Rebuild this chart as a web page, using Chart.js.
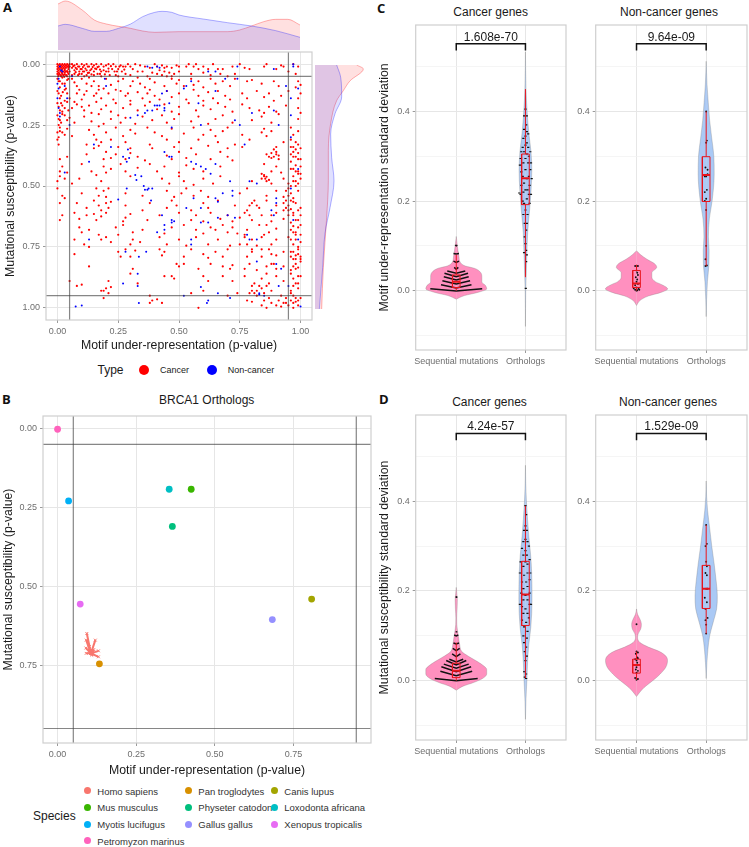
<!DOCTYPE html>
<html>
<head>
<meta charset="utf-8">
<script src="https://cdn.jsdelivr.net/npm/chart.js@4"></script>
<style>
html,body{margin:0;background:#fff;width:749px;height:847px;overflow:hidden;font-family:"Liberation Sans",Arial,sans-serif}
canvas,.txt,.dot{position:absolute}
.txt{white-space:nowrap;transform:translateY(-50%)}
.dot{border-radius:50%}
</style>
</head>
<body>
<script>
// ---- panel A data ----
const cutoffs = [0.05, 0.95]
const pTicks = [0, 0.25, 0.5, 0.75, 1]
const pTicksB = [0, 0.25, 0.5, 0.75]

const cancerPoints = [
[0,0],[.01,0],[.02,0],[.03,0],[.04,0],[.05,0],[0,.01],[.01,.01],[.02,.01],[.03,.01],[.04,.01],[.05,.01],[0,.02],[.01,.02],[.02,.02],[.03,.02],[.045,.02],[0,.03],[.012,.03],[.025,.03],[.035,.03],[.05,.03],[0,.04],[.008,.04],[.02,.04],[.03,.042],[.045,.04],[.003,.05],[.015,.05],[.028,.052],[.04,.05],
[.06,0],[.07,.005],[.08,0],[.09,.01],[.1,0],[.11,.005],[.12,0],[.13,.01],[.14,0],[.15,.005],[.16,0],[.17,.01],[.18,0],[.2,.005],[.21,0],[.06,.015],[.07,.025],[.08,.02],[.09,.03],[.1,.02],[.11,.03],[.12,.025],[.13,.035],[.14,.02],[.15,.03],[.16,.02],[.07,.04],[.085,.045],[.1,.04],[.12,.045],[.14,.042],[.165,.04],[.18,.03],[.19,.025],[.2,.03],[.11,.05],[.06,.045],[.23,0],[.24,.01],[.225,.02],[.235,.03],[.24,.045],[.25,.02],[.215,.045],[.18,.05],[.25,.05],
[.26,.005],[.27,.01],[.28,.01],[.29,0],[.28,.04],[.32,0],[.3,.045],[.33,.03],[.36,.01],[.38,.015],[.39,.035],[.37,.05],[.4,0],[.41,.01],[.41,.04],[.43,.005],[.45,.01],[.44,.03],[.46,.035],[.47,.015],[.48,.04],[.49,.005],[.47,.05],[.45,.05],[.43,.045],[.5,.03],
[.53,.01],[.54,0],[.55,.04],[.56,.01],[.57,0],[.58,.02],[.6,.01],[.6,.035],[.62,.02],[.63,.045],[.64,0],[.66,.02],[.67,.04],[.68,.02],[.7,.05],[.72,.01],[.73,.04],[.75,0],[.77,.015],[.79,.02],[.85,.01],[.86,0],[.92,.005],[.93,.01],[.9,.02],[.95,.03],[.97,0],[.98,.04],[.99,.01],
[0,.06],[.01,.07],[.02,.055],[.03,.08],[.04,.065],[.06,.06],[.08,.09],[.1,.06],[.12,.08],[.13,.055],[.15,.07],[.17,.09],[.2,.06],[.22,.085],[.25,.07],[.27,.06],[.3,.09],[.31,.07],[.33,.055],[.34,.08],[.36,.095],[.38,.06],[.4,.075],[.44,.09],[.47,.06],[.49,.08],[.5,.065],[.52,.09],[.55,.06],[.56,.085],[.58,.07],[.6,.095],[.63,.06],[.65,.08],[.68,.07],[.71,.09],[.73,.06],[.78,.07],[.8,.065],[.84,.08],[.89,.07],[.91,.09],[.99,.07],[1,.085],[.98,.095],
[0,.11],[.015,.13],[.03,.105],[.05,.14],[.08,.12],[.1,.145],[.12,.11],[.15,.13],[.17,.105],[.18,.14],[.21,.12],[.23,.145],[.26,.11],[.28,.13],[.3,.15],[.33,.115],[.35,.14],[.38,.105],[.4,.13],[.42,.145],[.45,.11],[.47,.135],[.5,.12],[.53,.145],[.56,.105],[.58,.13],[.6,.15],[.62,.115],[.64,.14],[.66,.11],[.69,.13],[.71,.145],[.76,.12],[.78,.14],[.82,.11],[.85,.135],[.87,.12],[.89,.15],[.92,.13],[.95,.11],[.99,.14],[1,.12],
[0,.16],[.01,.19],[.02,.17],[.04,.155],[.06,.18],[.08,.165],[.11,.19],[.13,.17],[.16,.155],[.18,.185],[.2,.17],[.22,.195],[.24,.16],[.27,.18],[.3,.165],[.33,.19],[.36,.17],[.38,.155],[.41,.185],[.44,.165],[.47,.195],[.5,.175],[.54,.16],[.57,.19],[.6,.17],[.63,.185],[.66,.16],[.69,.175],[.72,.195],[.76,.165],[.79,.18],[.83,.19],[.85,.2],[.87,.175],[.9,.195],[.94,.17],[.99,.18],[1,.2],
[0,.21],[.01,.23],[.02,.205],[.05,.22],[.07,.24],[.11,.215],[.14,.235],[.17,.205],[.19,.245],[.22,.225],[.25,.21],[.26,.24],[.28,.22],[.32,.245],[.35,.215],[.39,.23],[.43,.21],[.45,.24],[.48,.225],[.5,.205],[.55,.235],[.58,.215],[.62,.245],[.65,.225],[.68,.21],[.72,.24],[.8,.23],[.84,.215],[.88,.24],[.91,.205],[.99,.225],
[0,.28],[.005,.3],[.01,.26],[.03,.29],[.04,.265],[.06,.295],[.13,.27],[.15,.29],[.17,.255],[.2,.28],[.24,.26],[.27,.295],[.3,.27],[.32,.285],[.37,.26],[.4,.28],[.43,.295],[.47,.265],[.52,.285],[.56,.26],[.6,.29],[.63,.27],[.65,.295],[.68,.275],[.7,.26],[.76,.29],[.84,.28],[.85,.265],[.86,.295],[.88,.275],[.96,.26],[.97,.29],[.99,.275],
[0,.31],[.005,.33],[.12,.33],[.15,.345],[.16,.31],[.17,.335],[.18,.32],[.22,.31],[.25,.34],[.28,.32],[.3,.345],[.38,.33],[.39,.345],[.45,.31],[.48,.34],[.5,.32],[.55,.345],[.58,.31],[.62,.335],[.66,.32],[.7,.345],[.73,.33],[.76,.34],[.79,.31],[.9,.34],[.93,.32],[.97,.34],[.98,.32],[1,.345],[.96,.31],
[.04,.38],[.12,.37],[.19,.39],[.2,.36],[.22,.385],[.24,.37],[.28,.39],[.3,.365],[.33,.38],[.36,.395],[.45,.375],[.47,.39],[.5,.36],[.53,.385],[.57,.37],[.63,.39],[.67,.36],[.7,.38],[.72,.395],[.86,.37],[.88,.365],[.89,.38],[.9,.36],[.91,.375],[.97,.36],[.98,.38],[.99,.365],[1,.39],[.96,.37],[.01,.39],
[.01,.44],[.04,.445],[.02,.42],[.1,.41],[.14,.44],[.19,.42],[.2,.445],[.22,.43],[.26,.41],[.28,.44],[.33,.425],[.38,.41],[.41,.44],[.44,.42],[.5,.445],[.53,.415],[.56,.43],[.6,.44],[.67,.42],[.85,.41],[.88,.44],[.9,.42],[.92,.445],[.96,.4],[.97,.43],[.98,.415],[.99,.44],[1,.42],
[0,.48],[.01,.46],[.03,.47],[.06,.49],[.09,.47],[.16,.455],[.18,.48],[.3,.46],[.43,.47],[.46,.49],[.5,.46],[.52,.48],[.56,.495],[.6,.47],[.64,.49],[.67,.46],[.8,.48],[.85,.46],[.855,.47],[.86,.462],[.87,.475],[.88,.49],[.93,.47],[.95,.49],[.97,.46],[.98,.48],[.99,.45],[1,.47],
[0,.51],[.02,.54],[.1,.53],[.16,.51],[.17,.54],[.19,.52],[.2,.545],[.21,.51],[.28,.53],[.35,.54],[.45,.52],[.48,.545],[.51,.53],[.53,.51],[.56,.54],[.59,.52],[.62,.545],[.75,.53],[.78,.51],[.86,.54],[.9,.52],[.93,.545],[.95,.51],[.96,.53],[.97,.55],[.99,.52],
[.01,.57],[.03,.55],[.08,.57],[.12,.59],[.15,.56],[.17,.58],[.18,.6],[.2,.57],[.21,.59],[.22,.565],[.28,.58],[.35,.6],[.38,.57],[.45,.59],[.47,.56],[.49,.58],[.55,.6],[.6,.57],[.62,.59],[.66,.56],[.73,.58],[.78,.6],[.8,.57],[.83,.59],[.86,.56],[.9,.58],[.93,.6],[.94,.56],[.95,.58],[.96,.595],[.97,.565],[1,.59],
[.01,.64],[.02,.62],[.07,.61],[.09,.635],[.12,.62],[.15,.615],[.16,.64],[.18,.625],[.2,.61],[.27,.645],[.28,.63],[.3,.615],[.37,.64],[.42,.62],[.5,.61],[.55,.64],[.57,.62],[.6,.645],[.63,.61],[.67,.635],[.7,.62],[.72,.645],[.75,.63],[.77,.61],[.8,.64],[.84,.62],[.88,.645],[.9,.61],[.93,.635],[.95,.62],[.97,.61],[.99,.64],[1,.62],
[.13,.68],[.1,.69],[.09,.67],[.17,.7],[.24,.67],[.27,.66],[.31,.69],[.35,.68],[.44,.695],[.47,.67],[.52,.66],[.57,.68],[.6,.695],[.63,.67],[.65,.68],[.68,.66],[.7,.69],[.72,.67],[.74,.695],[.78,.68],[.83,.66],[.87,.69],[.9,.675],[.96,.68],[.97,.665],[.98,.69],[.99,.67],
[.07,.72],[.11,.74],[.13,.75],[.18,.72],[.2,.71],[.22,.73],[.25,.7],[.3,.74],[.31,.72],[.34,.73],[.42,.71],[.45,.74],[.5,.72],[.53,.745],[.57,.71],[.62,.74],[.66,.72],[.71,.745],[.77,.71],[.78,.74],[.8,.72],[.82,.745],[.84,.71],[.88,.74],[.9,.72],[.95,.71],[.97,.74],[.98,.72],[.99,.75],[1,.73],
[.07,.78],[.26,.79],[.25,.77],[.28,.76],[.3,.79],[.32,.765],[.42,.76],[.43,.785],[.44,.77],[.52,.79],[.55,.76],[.6,.78],[.62,.795],[.65,.77],[.68,.79],[.7,.76],[.78,.79],[.8,.77],[.84,.79],[.87,.76],[.9,.785],[.93,.77],[.96,.79],[.97,.77],[.98,.785],[1,.79],[.99,.76],
[.13,.83],[.3,.86],[.31,.84],[.47,.87],[.49,.82],[.5,.83],[.52,.82],[.58,.84],[.63,.82],[.68,.83],[.71,.84],[.72,.825],[.77,.84],[.79,.82],[.82,.845],[.86,.83],[.88,.82],[.9,.84],[.93,.83],[.96,.845],[.98,.82],[.99,.835],[1,.81],
[.05,.89],[.08,.91],[.1,.905],[.19,.93],[.21,.89],[.22,.915],[.33,.9],[.44,.87],[.48,.88],[.6,.87],[.62,.89],[.68,.87],[.72,.89],[.77,.87],[.81,.9],[.84,.88],[.87,.9],[.9,.87],[.93,.89],[.96,.86],[.97,.88],[.99,.9],[1,.87],
[.18,.93],[.2,.92],[.21,.94],[.38,.95],[.55,.94],[.6,.93],[.7,.95],[.74,.94],[.8,.93],[.81,.94],[.82,.95],[.85,.94],[.88,.93],[.92,.95],[.96,.93],[.97,.95],[.99,.92],
[.19,.96],[.38,.98],[.39,.97],[.41,.965],[.43,.98],[.58,1],[.78,.97],[.8,.975],[.84,.99],[.85,.97],[.88,.98],[.9,.99],[.92,.995],[.93,.98],[.94,.96],[.95,.99],[.96,.97],[.97,1],[.98,.975],[.99,.99],[1,.96]
]

// second pass over the crowded corners and edges
const cancerCrowded = [
[.005,.005],[.015,.005],[.025,.005],[.035,.005],[.045,.005],[.005,.015],[.015,.015],[.025,.015],[.035,.015],[.045,.012],[.005,.025],[.018,.025],[.03,.025],[.04,.028],[.005,.035],[.018,.035],[.03,.035],[.042,.033],[.005,.045],[.014,.045],[.024,.045],[.036,.045],
[.065,.008],[.075,.015],[.085,.01],[.095,.02],[.105,.012],[.115,.018],[.125,.01],[.135,.025],[.145,.012],[.155,.018],[.165,.012],[.175,.022],[.19,.01],[.21,.018],[.075,.033],[.09,.04],[.105,.03],[.125,.036],[.15,.045],[.175,.04],[.195,.042],[.21,.03],[.22,.008],[.245,.03],[.255,.01],[.265,.03],[.275,.022],[.3,.01],[.31,.02],[.34,.005],[.35,.03],[.42,.025],[.44,.015],[.5,.01],
[.005,.07],[.02,.08],[.01,.095],[.035,.1],[.005,.12],[.022,.115],[.04,.12],[.01,.14],[.03,.15],[.015,.16],[.03,.18],[.045,.19],[.005,.175],[.02,.195],[.005,.225],[.03,.21],[.015,.24],[.04,.23],[.01,.275],[.02,.28],[.005,.25],[.045,.06],[.07,.075],[.09,.105],[.11,.125],[.14,.09],[.16,.12],[.19,.1],[.07,.155],[.1,.175],[.14,.2],[.24,.105],[.29,.12],[.37,.12],
[.96,.34],[.98,.35],[.99,.33],[.97,.38],[.99,.39],[.96,.43],[.98,.44],[1,.45],[.97,.48],[.99,.49],[.96,.5],[.98,.5],[.94,.52],[.95,.54],[.96,.56],[.93,.57],[.95,.6],[.94,.59],[.98,.57],[.99,.6],[.97,.62],[.98,.64],[.96,.65],[1,.66],[.97,.69],[.98,.7],[.96,.72],[1,.7],[.99,.78],[.98,.8],[.97,.8],[.96,.77],[1,.8],[.98,.84],[.97,.83],[.99,.87],[.98,.9],[.97,.91],[.96,.94],[.98,.96],[.99,.97],[.97,.98],
[.89,.35],[.9,.37],[.87,.38],[.88,.385],[.91,.39],[.84,.45],[.85,.455],[.84,.47],[.86,.48],[.81,.56],[.82,.58],[.79,.58],[.79,.62],[.86,.66],[.88,.62],[.85,.7],[.77,.7],[.75,.74],[.8,.76],[.84,.76],[.88,.78],[.89,.82],[.86,.86],[.8,.91],[.83,.91],[.86,.91],[.82,.93],[.84,.92],[.79,.94],[.87,.96],[.91,.97],[.94,.98],[.86,1]
]

const nonCancerPoints = [
[.41,.01],[.42,.015],[.39,.015],[.37,.01],[.06,.05],[.01,.01],[.02,.03],[.015,.025],[.005,.06],[0,.08],[.005,.1],[.03,.09],[.04,.14],[0,.14],[.005,.18],[.01,.2],[.01,.215],[.05,.25],[.2,.09],[.195,.06],[.15,.33],[.22,.34],[.13,.4],[.29,.35],[.27,.38],[.285,.4],[.295,.385],[.32,.455],[.345,.46],[.325,.475],[.355,.5],[.36,.515],[.37,.515],[.375,.51],[.39,.51],[.385,.56],[.25,.555],[.285,.51],[.03,.445],[.13,.72],[.28,.77],[.335,.79],[.365,.77],[.33,.86],[.27,.9],[.33,.91],[.335,.98],[.075,.995],[.1,.99],[.52,.95],[.62,.97],[.615,.98],[.66,.94],[.59,.915],[.71,.96],
[.36,.2],[.37,.19],[.4,.17],[.42,.17],[.44,.18],[.43,.12],[.45,.11],[.41,.17],[.39,.19],[.46,.16],[.44,.19],[.3,.22],[.33,.21],[.47,.26],[.59,.25],[.58,.16],[.65,.11],[.52,.1],[.53,.09],[.55,.07],[.62,.03],[.65,.03],[.69,.06],[.74,.06],[.74,.01],[.89,.02],[.97,0],[.97,.01],[.99,.1],[.96,.14],[.94,.09],[.96,.21],[.96,.3],[.91,.25],[.89,.19],[.8,.2],[.73,.23],[.75,.25],[.77,.33],[.44,.36],[.47,.38],[.46,.38],[.55,.4],[.57,.41],[.59,.42],[.61,.43],[.63,.45],[.65,.41],[.71,.48],[.68,.53],[.79,.48],[.82,.49],[.72,.54],[.65,.55],[.66,.565],[.56,.55],[.59,.59],[.53,.59],
[.43,.62],[.47,.64],[.48,.645],[.47,.65],[.44,.66],[.44,.68],[.41,.69],[.55,.72],[.55,.74],[.59,.65],[.62,.65],[.66,.63],[.7,.62],[.73,.63],[.72,.52],[.78,.7],[.79,.72],[.82,.72],[.88,.6],[.89,.62],[.9,.57],[.9,.55],[.96,.51],[.97,.64],[.99,.72],[.99,.43],[.82,.81],[.9,.82],[.92,.84],[.91,.91],[.95,.91],[.83,.945],[.83,.94],[.85,.95],[1,.995]
]

// marginal densities [position, density]
const topCancer = [[0,1.38],[.03,1.47],[.1,1.2],[.15,.9],[.2,.78],[.3,.65],[.35,.57],[.4,.53],[.5,.55],[.7,.55],[.75,.6],[.8,.72],[.85,.85],[.9,.92],[.95,.92],[1,.75]]
const topNonCancer = [[0,.72],[.03,.77],[.1,.65],[.15,.56],[.2,.56],[.25,.65],[.3,.78],[.35,1],[.4,1.13],[.43,1.16],[.47,1.13],[.5,1.05],[.6,.93],[.7,.82],[.8,.72],[.9,.58],[1,.38]]
const sideCancer = [[0,1.25],[.016,1.45],[.065,1.05],[.105,.85],[.146,.65],[.24,.47],[.35,.4],[.475,.4],[.625,.35],[.83,.25],[1,.2]]
const sideNonCancer = [[0,.65],[.05,.77],[.13,.8],[.2,.6],[.283,.47],[.38,.5],[.475,.57],[.585,.45],[.69,.3],[.83,.23],[1,.13]]

// ---- panel B data ----
const species = ['Homo sapiens','Pan troglodytes','Canis lupus','Mus musculus','Physeter catodon','Loxodonta africana','Myotis lucifugus','Gallus gallus','Xenopus tropicalis','Petromyzon marinus']
const speciesColors = ['#F8766D','#D89000','#A3A500','#39B600','#00BF7D','#00BFC4','#00B0F6','#9590FF','#E76BF3','#FF62BC']
const speciesX = [null,.133,.808,.425,.365,.355,.035,.683,.072,0]
const speciesY = [null,.745,.54,.192,.31,.192,.229,.605,.556,.002]
const homoHub = [.106,.712]
const homoTips = [[.093,.649],[.12,.67],[.091,.67],[.09,.695],[.13,.704],[.13,.723],[.091,.712],[.101,.69],[.115,.7]]

// ---- panels C and D data: violin [value, half width], box [low,q1,median,q3,high] ----
const categories = ['Sequential mutations','Orthologs']
const violinTicks = [-0.1,0,0.1,0.2,0.3,0.4,0.5]

const motifCancerSeqViolin = [[-.019,0],[-.011,.12],[-.004,.31],[.004,.44],[.012,.42],[.019,.37],[.03,.37],[.041,.35],[.05,.26],[.055,.13],[.064,.055],[.075,.04],[.09,.025],[.105,.012],[.121,0]]
const motifCancerOrthViolin = [[-.08,0],[0,.004],[.03,.01],[.08,.02],[.13,.032],[.18,.06],[.22,.08],[.27,.092],[.31,.08],[.35,.05],[.4,.024],[.45,.008],[.533,0]]
const motifOtherSeqViolin = [[-.033,0],[-.022,.05],[-.012,.17],[-.004,.35],[.004,.447],[.012,.38],[.02,.27],[.03,.22],[.04,.22],[.052,.29],[.06,.26],[.07,.15],[.08,.06],[.089,0]]
const motifOtherOrthViolin = [[-.058,0],[-.02,.006],[.02,.018],[.06,.04],[.09,.042],[.12,.032],[.16,.045],[.2,.085],[.26,.115],[.3,.11],[.34,.08],[.38,.05],[.42,.03],[.46,.012],[.512,0]]
const suscCancerSeqViolin = [[-.021,0],[-.012,.1],[-.004,.25],[.005,.38],[.015,.44],[.025,.44],[.035,.38],[.045,.28],[.055,.17],[.065,.08],[.08,.05],[.095,.035],[.11,.02],[.125,.008],[.14,.006],[.16,.012],[.18,.016],[.195,.008],[.208,0]]
const suscCancerOrthViolin = [[-.086,0],[-.04,.008],[0,.02],[.04,.03],[.08,.048],[.12,.078],[.18,.095],[.24,.09],[.28,.075],[.32,.05],[.36,.03],[.4,.014],[.44,.004],[.48,0]]
const suscOtherSeqViolin = [[-.035,0],[-.025,.05],[-.015,.11],[-.005,.19],[.005,.27],[.015,.34],[.03,.42],[.045,.445],[.055,.42],[.065,.33],[.075,.17],[.085,.05],[.097,.015],[.105,.025],[.115,.06],[.126,.07],[.137,.05],[.148,.015],[.16,0]]
const suscOtherOrthViolin = [[.005,0],[.04,.01],[.07,.025],[.1,.05],[.13,.1],[.16,.15],[.19,.16],[.22,.145],[.26,.115],[.3,.08],[.34,.05],[.38,.02],[.41,.006],[.445,0]]

const motifCancerSeqBox = [0,.007,.02,.035,.08]
const motifCancerOrthBox = [.03,.192,.251,.305,.45]
const motifOtherSeqBox = [0,.007,.016,.045,.058]
const motifOtherOrthBox = [.055,.199,.258,.299,.4]
const suscCancerSeqBox = [0,.007,.022,.039,.085]
const suscCancerOrthBox = [.006,.123,.192,.266,.39]
const suscOtherSeqBox = [.002,.017,.035,.048,.065]
const suscOtherOrthBox = [.105,.161,.205,.257,.347]

// swarm rows that merge into chevrons [end offset, end value, centre value]
const motifCancerSeqRows = [[.375,.004,-.001],[.22,.013,.006],[.2,.022,.015],[.18,.031,.024],[.17,.039,.031],[.13,.044,.039],[.03,.052,.048],[.04,.066,.063],[.04,.083,.082],[.015,.102,.1]]
const suscCancerSeqRows = [[.31,.005,0],[.23,.021,.011],[.215,.031,.02],[.18,.037,.028],[.145,.045,.035],[.1,.048,.042],[.06,.06,.054],[.05,.072,.067],[.04,.084,.082],[.03,.102,.1],[.005,.11,.109],[.005,.188,.186]]

// swarm points [offset, value]
const motifCancerOrthSwarm = [[0,.405],[-.02,.39],[.02,.39],[.01,.37],[-.02,.36],[.02,.355],[.04,.35],[0,.345],[-.03,.34],[.02,.33],[0,.325],[.04,.32],[-.04,.32],[-.06,.31],[.07,.31],[-.02,.31],[.02,.305],[.05,.3],[-.07,.295],[0,.295],[.08,.285],[-.08,.28],[.04,.285],[-.03,.285],[.07,.27],[-.06,.265],[0,.27],[-.04,.255],[.05,.255],[.09,.25],[.02,.25],[-.02,.24],[.06,.235],[-.06,.235],[.03,.225],[0,.225],[-.03,.22],[-.09,.218],[-.07,.215],[.08,.215],[.05,.215],[.02,.205],[-.04,.2],[.06,.195],[-.02,.195],[0,.18],[.03,.17],[-.03,.17],[-.01,.15],[.02,.15],[.01,.135],[-.01,.12],[0,.105],[.01,.09],[-.02,.085],[.02,.08],[.01,.065],[.005,.005]]
const motifOtherSeqSwarm = [[0,.055],[-.02,.055],[.02,.055],[0,.045],[.01,.04],[.02,.035],[-.01,.03],[.01,.025],[0,.02],[.02,.015],[-.02,.012],[0,.007],[-.04,.005],[.03,.004],[-.02,.002],[.01,.001],[0,0],[.04,.002]]
const motifOtherOrthSwarm = [[0,.4],[.01,.335],[0,.33],[-.01,.275],[.02,.27],[0,.255],[.02,.26],[-.02,.255],[.01,.225],[-.02,.22],[0,.205],[-.02,.2],[0,.18],[0,.1],[-.01,.07],[.01,.056],[-.01,.055]]
const suscCancerOrthSwarm = [[0,.39],[.01,.37],[0,.345],[-.02,.335],[.02,.335],[0,.315],[-.03,.31],[.03,.31],[.05,.3],[-.05,.295],[0,.29],[.02,.28],[-.03,.28],[.06,.27],[-.07,.265],[0,.265],[.03,.26],[-.03,.255],[.07,.24],[-.08,.24],[.03,.24],[-.02,.235],[.06,.225],[-.05,.22],[.01,.22],[.03,.21],[-.03,.205],[.06,.195],[-.06,.195],[0,.19],[.03,.18],[-.03,.18],[.08,.17],[-.08,.17],[.06,.17],[-.05,.165],[0,.16],[.03,.15],[-.03,.15],[.05,.14],[-.05,.135],[.01,.13],[-.02,.12],[.03,.11],[-.03,.1],[.02,.095],[-.02,.085],[.01,.075],[-.01,.065],[.02,.055],[0,.045],[-.02,.02],[.01,.015],[-.01,.008],[.01,.005]]
const suscOtherSeqSwarm = [[0,.126],[0,.065],[.02,.063],[-.01,.06],[.01,.052],[-.02,.048],[.02,.05],[0,.045],[.01,.04],[-.02,.035],[.03,.035],[0,.03],[-.01,.025],[.02,.022],[0,.018],[-.02,.006],[.02,.004],[0,.002]]
const suscOtherOrthSwarm = [[0,.347],[.01,.305],[-.01,.3],[0,.265],[.01,.255],[-.01,.24],[.01,.235],[0,.205],[.02,.205],[-.02,.185],[.01,.175],[-.01,.16],[.02,.14],[-.01,.135],[0,.125],[0,.105]]

// ---- helpers ----
const fontName = '"Liberation Sans", Arial, sans-serif'
const tickColor = '#6e6e6e'
const gridMajor = '#e6e6e6'
const gridMinor = '#f1f1f1'
const lineGray = 'rgba(60,60,60,0.62)'
Chart.defaults.animation = false
Chart.defaults.font.family = fontName

const xy = pairs => pairs.map(p => ({x:p[0], y:p[1]}))
const gap = {x:NaN, y:NaN}

function addText(text, x, y, size, opt){
    const d = document.createElement('div')
    d.className = 'txt'
    d.textContent = text
    d.style.left = x + 'px'
    d.style.top = y + 'px'
    d.style.fontSize = size + 'px'
    d.style.color = (opt && opt.color) || '#1a1a1a'
    if(opt && opt.center) d.style.transform = 'translate(-50%,-50%)'
    if(opt && opt.bold){ d.style.fontWeight = 'bold'; d.style.fontFamily = '"Open Sans",sans-serif' }
    document.body.appendChild(d)
}

function addDot(x, y, r, color){
    const d = document.createElement('div')
    d.className = 'dot'
    d.style.cssText = `left:${x-r}px;top:${y-r}px;width:${2*r}px;height:${2*r}px;background:${color}`
    document.body.appendChild(d)
}

function makeCanvas(left, top, w, h){
    const c = document.createElement('canvas')
    c.width = w
    c.height = h
    c.style.left = left + 'px'
    c.style.top = top + 'px'
    c.style.width = w + 'px'
    c.style.height = h + 'px'
    document.body.appendChild(c)
    return c
}

const framePlugin = {
    id:'frame',
    afterDatasetsDraw(chart){
        const a = chart.chartArea, ctx = chart.ctx
        ctx.save()
        ctx.strokeStyle = '#cfcfcf'
        ctx.lineWidth = 1.2
        ctx.strokeRect(a.left, a.top, a.width, a.height)
        ctx.restore()
    }
}

function axis(size, cfg){
    return {
        type:'linear', min:cfg.min, max:cfg.max, reverse:!!cfg.reverse,
        afterBuildTicks:s => { s.ticks = cfg.ticks.map(v => ({value:v})) },
        afterFit:s => {
            if(s.isHorizontal()) s.height = size; else s.width = size
            s.paddingTop = s.paddingBottom = s.paddingLeft = s.paddingRight = 0
        },
        border:{display:false},
        grid:{
            color:c => (cfg.minor && cfg.minor(c.tick.value)) ? gridMinor : gridMajor,
            lineWidth:c => (cfg.minor && cfg.minor(c.tick.value)) ? 0.7 : 1,
            tickLength:3,
            tickColor:c => (cfg.minor && cfg.minor(c.tick.value)) ? 'rgba(0,0,0,0)' : '#9a9a9a'
        },
        ticks:{autoSkip:false, maxRotation:0, minRotation:0, padding:3, color:tickColor, font:{size:9}, callback:cfg.label},
        title:{display:!!cfg.title, text:cfg.title, color:'#1a1a1a', font:{size:12.3}, padding:0}
    }
}

function panelChart(f, pad, datasets, xCfg, yCfg, extra){
    const canvas = makeCanvas(f.l-pad.left, f.t-pad.top, Math.round(f.r-f.l+pad.left+pad.right), Math.round(f.b-f.t+pad.top+pad.bottom))
    return new Chart(canvas, {
        type:'scatter',
        data:{datasets},
        options:{
            responsive:false,
            layout:{autoPadding:false, padding:{top:pad.top, right:pad.right, left:0, bottom:0}},
            plugins:{legend:{display:false}, tooltip:{enabled:false}},
            scales:{x:axis(pad.bottom, xCfg), y:axis(pad.left, yCfg)}
        },
        plugins:[framePlugin].concat(extra || [])
    })
}

function cutoffLines(xMin, xMax, yMin, yMax){
    const lines = []
    cutoffs.forEach(v => {
        lines.push({showLine:true, pointRadius:0, borderColor:lineGray, borderWidth:1.2, data:[{x:v,y:yMin},{x:v,y:yMax}]})
        lines.push({showLine:true, pointRadius:0, borderColor:lineGray, borderWidth:1.2, data:[{x:xMin,y:v},{x:xMax,y:v}]})
    })
    return lines
}

function marginal(canvas, cancer, other, vertical){
    const edge = (pairs, line, fill) => ({
        type:'line',
        indexAxis: vertical ? 'y' : 'x',
        data: vertical ? pairs.map(p => ({x:p[1], y:p[0]})) : xy(pairs),
        borderColor:line, borderWidth:0.8, backgroundColor:fill, pointRadius:0,
        cubicInterpolationMode:'monotone', fill:'origin'
    })
    new Chart(canvas, {
        type:'scatter',
        data:{datasets:[edge(other,'rgba(0,0,255,0.38)','rgba(0,0,255,0.12)'), edge(cancer,'rgba(255,0,0,0.38)','rgba(255,0,0,0.12)')]},
        options:{
            responsive:false,
            layout:{autoPadding:false},
            plugins:{legend:{display:false}, tooltip:{enabled:false}},
            scales: vertical
                ? {x:{type:'linear',display:false,min:0,max:1.5}, y:{type:'linear',display:false,min:0,max:1,reverse:true}}
                : {x:{type:'linear',display:false,min:0,max:1}, y:{type:'linear',display:false,min:0,max:1.5}}
        }
    })
}

function violinSides(center, shape, fillColor){
    return [1,-1].map(side => ({
        type:'line', indexAxis:'y',
        data:shape.map(p => ({x:center+side*p[1], y:p[0]})),
        borderColor:'rgba(120,120,120,0.5)', borderWidth:0.6, pointRadius:0,
        backgroundColor:fillColor, cubicInterpolationMode:'monotone', fill:{value:center}
    }))
}

function boxLines(center, b){
    const w = 0.055
    const path = [
        {x:center,y:b[0]},{x:center,y:b[1]},gap,
        {x:center,y:b[3]},{x:center,y:b[4]},gap,
        {x:center-w,y:b[1]},{x:center+w,y:b[1]},{x:center+w,y:b[3]},{x:center-w,y:b[3]},{x:center-w,y:b[1]}
    ]
    return [
        {showLine:true, pointRadius:0, borderColor:'#e8141c', borderWidth:2, data:[{x:center-w,y:b[2]},{x:center+w,y:b[2]}]},
        {showLine:true, pointRadius:0, borderColor:'#e8141c', borderWidth:1, data:path}
    ]
}

function swarmRows(center, rows){
    const path = []
    rows.forEach(r => {
        path.push({x:center-r[0],y:r[1]},{x:center,y:r[2]},{x:center+r[0],y:r[1]},gap)
    })
    return {showLine:true, pointRadius:0, borderColor:'#111', borderWidth:1.5, data:path}
}

// big swarms read as short dashes, small ones as single dots
function swarmDots(center, pts){
    const dense = pts.length > 30
    return {
        pointStyle: dense ? 'line' : 'circle',
        pointRadius: dense ? 1.1 : 0.95,
        pointBackgroundColor:'#111', pointBorderColor:'#111', pointBorderWidth: dense ? 1.2 : 0,
        data:pts.map(p => ({x:center+p[0], y:p[1]}))
    }
}

function violinPanel(f, leftPad, yTitle, pvalue, seq, orth){
    const datasets = [
        {showLine:true, pointRadius:0, borderColor:'#111', borderWidth:1.5, data:[{x:1,y:.536},{x:1,y:.551},{x:2,y:.551},{x:2,y:.536}]}
    ].concat(boxLines(1, seq.box), boxLines(2, orth.box))
    if(seq.rows) datasets.push(swarmRows(1, seq.rows))
    if(seq.swarm) datasets.push(swarmDots(1, seq.swarm))
    datasets.push(swarmDots(2, orth.swarm))
    datasets.push(...violinSides(1, seq.violin, 'rgba(255,138,188,0.95)'), ...violinSides(2, orth.violin, 'rgba(165,198,244,0.95)'))
    const pLabel = {
        id:'pLabel',
        afterDatasetsDraw(chart){
            const ctx = chart.ctx
            ctx.save()
            ctx.font = '12px ' + fontName
            ctx.fillStyle = '#1a1a1a'
            ctx.textAlign = 'center'
            ctx.fillText(pvalue, chart.scales.x.getPixelForValue(1.5), chart.scales.y.getPixelForValue(.551)-3)
            ctx.restore()
        }
    }
    panelChart(f, {left:leftPad, top:1, right:1, bottom:20}, datasets,
        {min:0.414, max:2.586, ticks:[1,2], label:v => categories[v-1]},
        {min:f.yMin, max:f.yMax, ticks:violinTicks, title:yTitle,
         minor:v => Math.round(v*10)%2 !== 0,
         label:v => Math.round(v*10)%2 !== 0 ? '' : v.toFixed(1)},
        [pLabel])
}

// ---- panel A ----
const frameA = {l:46, t:52, r:312, b:320}
panelChart(frameA, {left:43, top:1, right:1, bottom:33},
    cutoffLines(-0.047,1.047,-0.05,1.05).concat([
        {pointRadius:1, pointBackgroundColor:'#0000ff', pointBorderWidth:0, data:xy(nonCancerPoints)},
        {pointRadius:1.1, pointBackgroundColor:'#ff0000', pointBorderWidth:0, data:xy(cancerPoints.concat(cancerCrowded))}
    ]),
    {min:-0.047, max:1.047, ticks:pTicks, label:v => v.toFixed(2), title:'Motif under-representation (p-value)'},
    {min:-0.05, max:1.05, reverse:true, ticks:pTicks, label:v => v.toFixed(2), title:'Mutational susceptibility (p-value)'})

marginal(makeCanvas(57.7,0,242,50), topCancer, topNonCancer, false)
marginal(makeCanvas(315,64.5,50,244), sideCancer, sideNonCancer, true)

addText('A', 3, 7, 13, {bold:true, color:'#111'})
addText('Type', 97.5, 370, 12)
addDot(144.3, 370, 5, '#ff0000')
addText('Cancer', 160, 370, 9)
addDot(212.3, 370, 5, '#0000ff')
addText('Non-cancer', 227.7, 370, 9)

// ---- panel B ----
const frameB = {l:42.7, t:415.7, r:371, b:743}
const homoPath = []
homoTips.forEach(t => homoPath.push({x:homoHub[0],y:homoHub[1]},{x:t[0],y:t[1]}))
const speciesPoints = species.map((name,i) => ({
    pointRadius:3.4, pointBackgroundColor:speciesColors[i], pointBorderWidth:0,
    data:speciesX[i] === null ? [] : [{x:speciesX[i], y:speciesY[i]}]
}))
panelChart(frameB, {left:42, top:1, right:1, bottom:35},
    cutoffLines(-0.0464,0.9968,-0.04,0.996).concat(speciesPoints, [
        {showLine:true, borderColor:speciesColors[0], borderWidth:2, pointStyle:'crossRot', pointRadius:2, pointBorderColor:speciesColors[0], pointBorderWidth:1, data:homoPath}
    ]),
    {min:-0.0464, max:0.9968, ticks:pTicksB, label:v => v.toFixed(2), title:'Motif under-representation (p-value)'},
    {min:-0.04, max:0.996, reverse:true, ticks:pTicksB, label:v => v.toFixed(2), title:'Mutational susceptibility (p-value)'})

addText('B', 2, 398.7, 13, {bold:true, color:'#111'})
addText('BRCA1 Orthologs', 206.7, 399.7, 12, {center:true})
addText('Species', 33, 815.7, 12)
const legendX = [87.7,188.7,274.7]
const legendY = [790.7,807.3,824,840.7]
const legendSlots = [[0,0],[1,0],[2,0],[0,1],[1,1],[2,1],[0,2],[1,2],[2,2],[0,3]]
species.forEach((name,i) => {
    const s = legendSlots[i]
    addDot(legendX[s[0]], legendY[s[1]], 3.5, speciesColors[i])
    addText(name, legendX[s[0]]+9.6, legendY[s[1]], 9.5, {color:'#333'})
})

// ---- panels C and D ----
const yTitleC = 'Motif under-representation standard deviation'
const yTitleD = 'Mutational susceptibility standard deviation'
violinPanel({l:415.7,t:24.7,r:566.3,b:349.3,yMin:-0.1325,yMax:0.593}, 38.7, yTitleC, '1.608e-70',
    {violin:motifCancerSeqViolin, box:motifCancerSeqBox, rows:motifCancerSeqRows},
    {violin:motifCancerOrthViolin, box:motifCancerOrthBox, swarm:motifCancerOrthSwarm})
violinPanel({l:595.7,t:24.7,r:747.3,b:349.3,yMin:-0.1325,yMax:0.593}, 27.7, '', '9.64e-09',
    {violin:motifOtherSeqViolin, box:motifOtherSeqBox, swarm:motifOtherSeqSwarm},
    {violin:motifOtherOrthViolin, box:motifOtherOrthBox, swarm:motifOtherOrthSwarm})
violinPanel({l:415.7,t:414.7,r:566.3,b:739.3,yMin:-0.132,yMax:0.592}, 38.7, yTitleD, '4.24e-57',
    {violin:suscCancerSeqViolin, box:suscCancerSeqBox, rows:suscCancerSeqRows},
    {violin:suscCancerOrthViolin, box:suscCancerOrthBox, swarm:suscCancerOrthSwarm})
violinPanel({l:595.7,t:414.7,r:747.3,b:739.3,yMin:-0.132,yMax:0.592}, 27.7, '', '1.529e-09',
    {violin:suscOtherSeqViolin, box:suscOtherSeqBox, swarm:suscOtherSeqSwarm},
    {violin:suscOtherOrthViolin, box:suscOtherOrthBox, swarm:suscOtherOrthSwarm})

addText('C', 377, 8, 13, {bold:true, color:'#111'})
addText('Cancer genes', 490.7, 12, 12, {center:true})
addText('Non-cancer genes', 669, 12, 12, {center:true})
addText('D', 379, 399, 13, {bold:true, color:'#111'})
addText('Cancer genes', 489.5, 402, 12, {center:true})
addText('Non-cancer genes', 668, 402, 12, {center:true})
</script>
</body>
</html>
